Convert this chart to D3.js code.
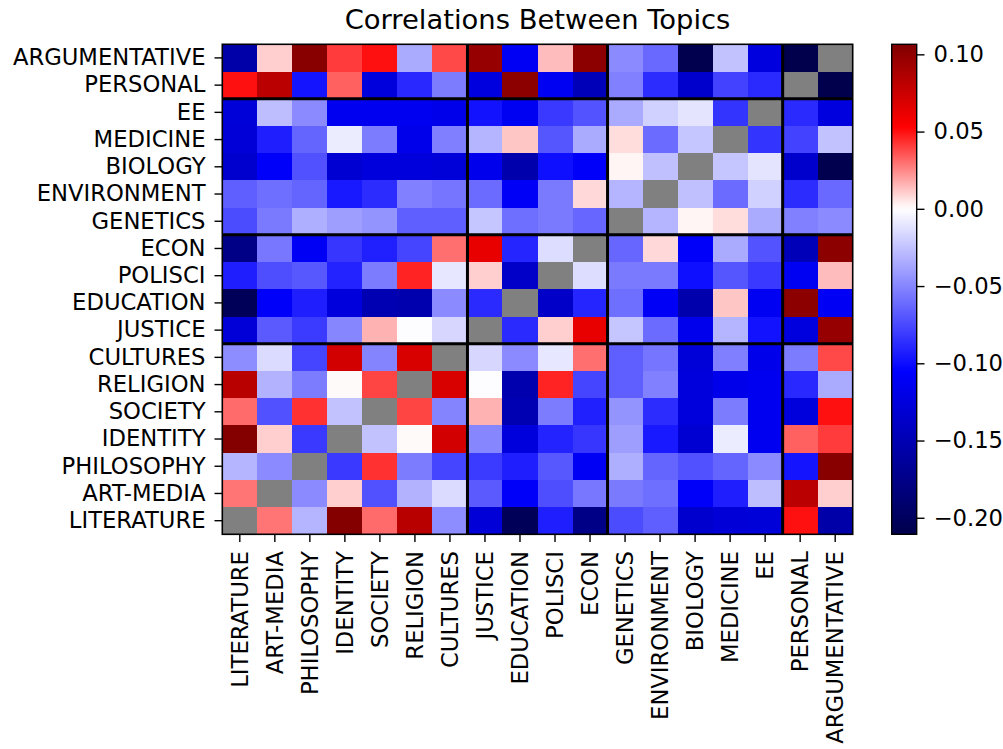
<!DOCTYPE html>
<html>
<head>
<meta charset="utf-8">
<script src="https://cdn.jsdelivr.net/npm/d3@7"></script>
<style>
  body { margin: 0; background: #fff; }
  svg { display: block; }
  text { font-family: "DejaVu Sans", sans-serif; fill: #000; }
</style>
</head>
<body>
<svg id="chart" width="1003" height="749"></svg>
<script>
// ---- data ----
const rowLabels = ["ARGUMENTATIVE","PERSONAL","EE","MEDICINE","BIOLOGY","ENVIRONMENT","GENETICS",
  "ECON","POLISCI","EDUCATION","JUSTICE","CULTURES","RELIGION","SOCIETY","IDENTITY",
  "PHILOSOPHY","ART-MEDIA","LITERATURE"];
const colLabels = ["LITERATURE","ART-MEDIA","PHILOSOPHY","IDENTITY","SOCIETY","RELIGION","CULTURES",
  "JUSTICE","EDUCATION","POLISCI","ECON","GENETICS","ENVIRONMENT","BIOLOGY","MEDICINE","EE",
  "PERSONAL","ARGUMENTATIVE"];
// correlation values, one array per row (null = not shown / diagonal)
const values = [
  [-0.156, 0.010, 0.103, 0.041, 0.050,-0.035, 0.038, 0.097,-0.112, 0.014, 0.101,-0.048,-0.062,-0.209,-0.025,-0.124,-0.211, null],
  [ 0.050, 0.082,-0.097, 0.033,-0.126,-0.089,-0.054,-0.124, 0.101,-0.113,-0.147,-0.052,-0.087,-0.135,-0.078,-0.088, null,-0.211],
  [-0.128,-0.027,-0.048,-0.114,-0.114,-0.114,-0.118,-0.098,-0.113,-0.082,-0.071,-0.035,-0.019,-0.011,-0.084, null,-0.088,-0.124],
  [-0.129,-0.093,-0.064,-0.008,-0.054,-0.118,-0.053,-0.031, 0.012,-0.070,-0.035, 0.007,-0.061,-0.024, null,-0.084,-0.078,-0.025],
  [-0.134,-0.108,-0.072,-0.131,-0.126,-0.126,-0.128,-0.116,-0.154,-0.099,-0.108, 0.002,-0.026, null,-0.024,-0.011,-0.135,-0.209],
  [-0.066,-0.060,-0.064,-0.095,-0.087,-0.052,-0.057,-0.061,-0.110,-0.055, 0.008,-0.031, null,-0.026,-0.061,-0.019,-0.087,-0.062],
  [-0.074,-0.055,-0.033,-0.040,-0.044,-0.066,-0.066,-0.024,-0.060,-0.055,-0.063, null,-0.031, 0.002, 0.007,-0.035,-0.052,-0.048],
  [-0.176,-0.056,-0.112,-0.083,-0.092,-0.077, 0.030, 0.063,-0.090,-0.014, null,-0.063, 0.008,-0.108,-0.035,-0.071,-0.147, 0.101],
  [-0.093,-0.073,-0.069,-0.091,-0.054, 0.046,-0.010, 0.010,-0.138, null,-0.014,-0.055,-0.055,-0.099,-0.070,-0.082,-0.113, 0.014],
  [-0.203,-0.108,-0.093,-0.126,-0.150,-0.153,-0.048,-0.088, null,-0.138,-0.090,-0.060,-0.110,-0.154, 0.012,-0.113, 0.101,-0.112],
  [-0.129,-0.068,-0.081,-0.050, 0.016,-0.001,-0.017, null,-0.088, 0.010, 0.063,-0.024,-0.061,-0.116,-0.031,-0.098,-0.124, 0.097],
  [-0.047,-0.015,-0.077, 0.072,-0.051, 0.069, null,-0.017,-0.048,-0.010, 0.030,-0.066,-0.057,-0.128,-0.053,-0.118,-0.054, 0.038],
  [ 0.083,-0.032,-0.054, 0.001, 0.039, null, 0.069,-0.001,-0.153, 0.046,-0.077,-0.066,-0.052,-0.126,-0.118,-0.114,-0.089,-0.035],
  [ 0.031,-0.072, 0.043,-0.025, null, 0.039,-0.051, 0.016,-0.150,-0.054,-0.092,-0.044,-0.087,-0.126,-0.054,-0.114,-0.126, 0.050],
  [ 0.105, 0.010,-0.082, null,-0.025, 0.001, 0.072,-0.050,-0.126,-0.091,-0.083,-0.040,-0.095,-0.131,-0.008,-0.114, 0.033, 0.041],
  [-0.031,-0.048, null,-0.082, 0.043,-0.054,-0.077,-0.081,-0.093,-0.069,-0.112,-0.033,-0.064,-0.072,-0.064,-0.048,-0.097, 0.103],
  [ 0.029, null,-0.048, 0.010,-0.072,-0.032,-0.015,-0.068,-0.108,-0.073,-0.056,-0.055,-0.060,-0.108,-0.093,-0.027, 0.082, 0.010],
  [ null, 0.029,-0.031, 0.105, 0.031, 0.083,-0.047,-0.129,-0.203,-0.093,-0.176,-0.074,-0.066,-0.134,-0.129,-0.128, 0.050,-0.156]
];
const rowBreaks = ["EE","ECON","CULTURES"];          // group separators (rows)
const colBreaks = ["JUSTICE","GENETICS","PERSONAL"]; // group separators (columns)
const cbTicks = [0.10, 0.05, 0.00, -0.05, -0.10, -0.15, -0.20];
const vmin = -0.2107, vmax = 0.1065;

// ---- layout ----
const svg = d3.select("#chart");
const P = { left: 222.3, right: 852.7, top: 44.3, bottom: 534.3 };
const CB = { left: 891.7, right: 916.7 };
const tickLen = 7.8, tickPad = 9, fontSize = 22.7;

const x = d3.scaleBand().domain(colLabels).range([P.left, P.right]);
const y = d3.scaleBand().domain(rowLabels).range([P.top, P.bottom]);

// matplotlib "seismic" colormap with a diverging norm centred at 0
const color = d3.scaleLinear()
  .domain([vmin, vmin / 2, 0, vmax / 2, vmax])
  .range(["#00004c", "#0000ff", "#ffffff", "#ff0000", "#800000"])
  .clamp(true);

const cells = [];
values.forEach((row, i) => row.forEach((v, j) => cells.push({ row: rowLabels[i], col: colLabels[j], v })));

svg.append("g")
  .attr("shape-rendering", "crispEdges")
  .selectAll("rect").data(cells).join("rect")
  .attr("x", d => x(d.col))
  .attr("y", d => y(d.row))
  .attr("width", x.bandwidth() + 0.4)
  .attr("height", y.bandwidth() + 0.4)
  .attr("fill", d => d.v === null ? "#808080" : color(d.v));

// group separator lines
const sep = svg.append("g").attr("stroke", "#000").attr("stroke-width", 3);
sep.selectAll("line.v").data(colBreaks).join("line").attr("class", "v")
  .attr("x1", d => x(d)).attr("x2", d => x(d))
  .attr("y1", P.top).attr("y2", P.bottom);
sep.selectAll("line.h").data(rowBreaks).join("line").attr("class", "h")
  .attr("y1", d => y(d)).attr("y2", d => y(d))
  .attr("x1", P.left).attr("x2", P.right);

// frame
svg.append("rect")
  .attr("x", P.left).attr("y", P.top)
  .attr("width", P.right - P.left).attr("height", P.bottom - P.top)
  .attr("fill", "none").attr("stroke", "#000").attr("stroke-width", 1.6);

// axes
const yAxis = svg.append("g")
  .attr("transform", `translate(${P.left},0)`)
  .call(d3.axisLeft(y).tickSize(tickLen).tickPadding(tickPad));
yAxis.select(".domain").remove();
yAxis.selectAll("text").style("font-size", fontSize + "px").attr("fill", "#000");
yAxis.selectAll(".tick line").attr("stroke", "#000").attr("stroke-width", 1.4);

const xAxis = svg.append("g")
  .attr("transform", `translate(0,${P.bottom})`)
  .call(d3.axisBottom(x).tickSize(tickLen).tickPadding(tickPad));
xAxis.select(".domain").remove();
xAxis.selectAll(".tick line").attr("stroke", "#000").attr("stroke-width", 1.4);
xAxis.selectAll("text")
  .style("font-size", fontSize + "px").attr("fill", "#000")
  .attr("transform", "rotate(-90)")
  .attr("y", 0).attr("x", -(tickLen + tickPad)).attr("dy", "0.35em")
  .style("text-anchor", "end");

// title
svg.append("text")
  .attr("x", (P.left + P.right) / 2).attr("y", 29)
  .attr("text-anchor", "middle")
  .style("font-size", "27.4px")
  .text("Correlations Between Topics");

// colorbar
const cbY = d3.scaleLinear().domain([vmin, vmax]).range([P.bottom, P.top]);
const defs = svg.append("defs");
const grad = defs.append("linearGradient").attr("id", "cbgrad")
  .attr("x1", 0).attr("y1", 1).attr("x2", 0).attr("y2", 0);
d3.range(0, 101).forEach(k => {
  const v = vmin + (vmax - vmin) * k / 100;
  grad.append("stop").attr("offset", (k) + "%").attr("stop-color", color(v));
});
svg.append("rect")
  .attr("x", CB.left).attr("y", P.top)
  .attr("width", CB.right - CB.left).attr("height", P.bottom - P.top)
  .attr("fill", "url(#cbgrad)")
  .attr("stroke", "#000").attr("stroke-width", 1.4);

const cbAxis = svg.append("g")
  .attr("transform", `translate(${CB.right},0)`)
  .call(d3.axisRight(cbY).tickValues(cbTicks).tickFormat(d3.format(".2f"))
    .tickSize(tickLen).tickPadding(tickPad));
cbAxis.select(".domain").remove();
cbAxis.selectAll("text").style("font-size", fontSize + "px").attr("fill", "#000");
cbAxis.selectAll(".tick line").attr("stroke", "#000").attr("stroke-width", 1.4);
</script>
</body>
</html>
